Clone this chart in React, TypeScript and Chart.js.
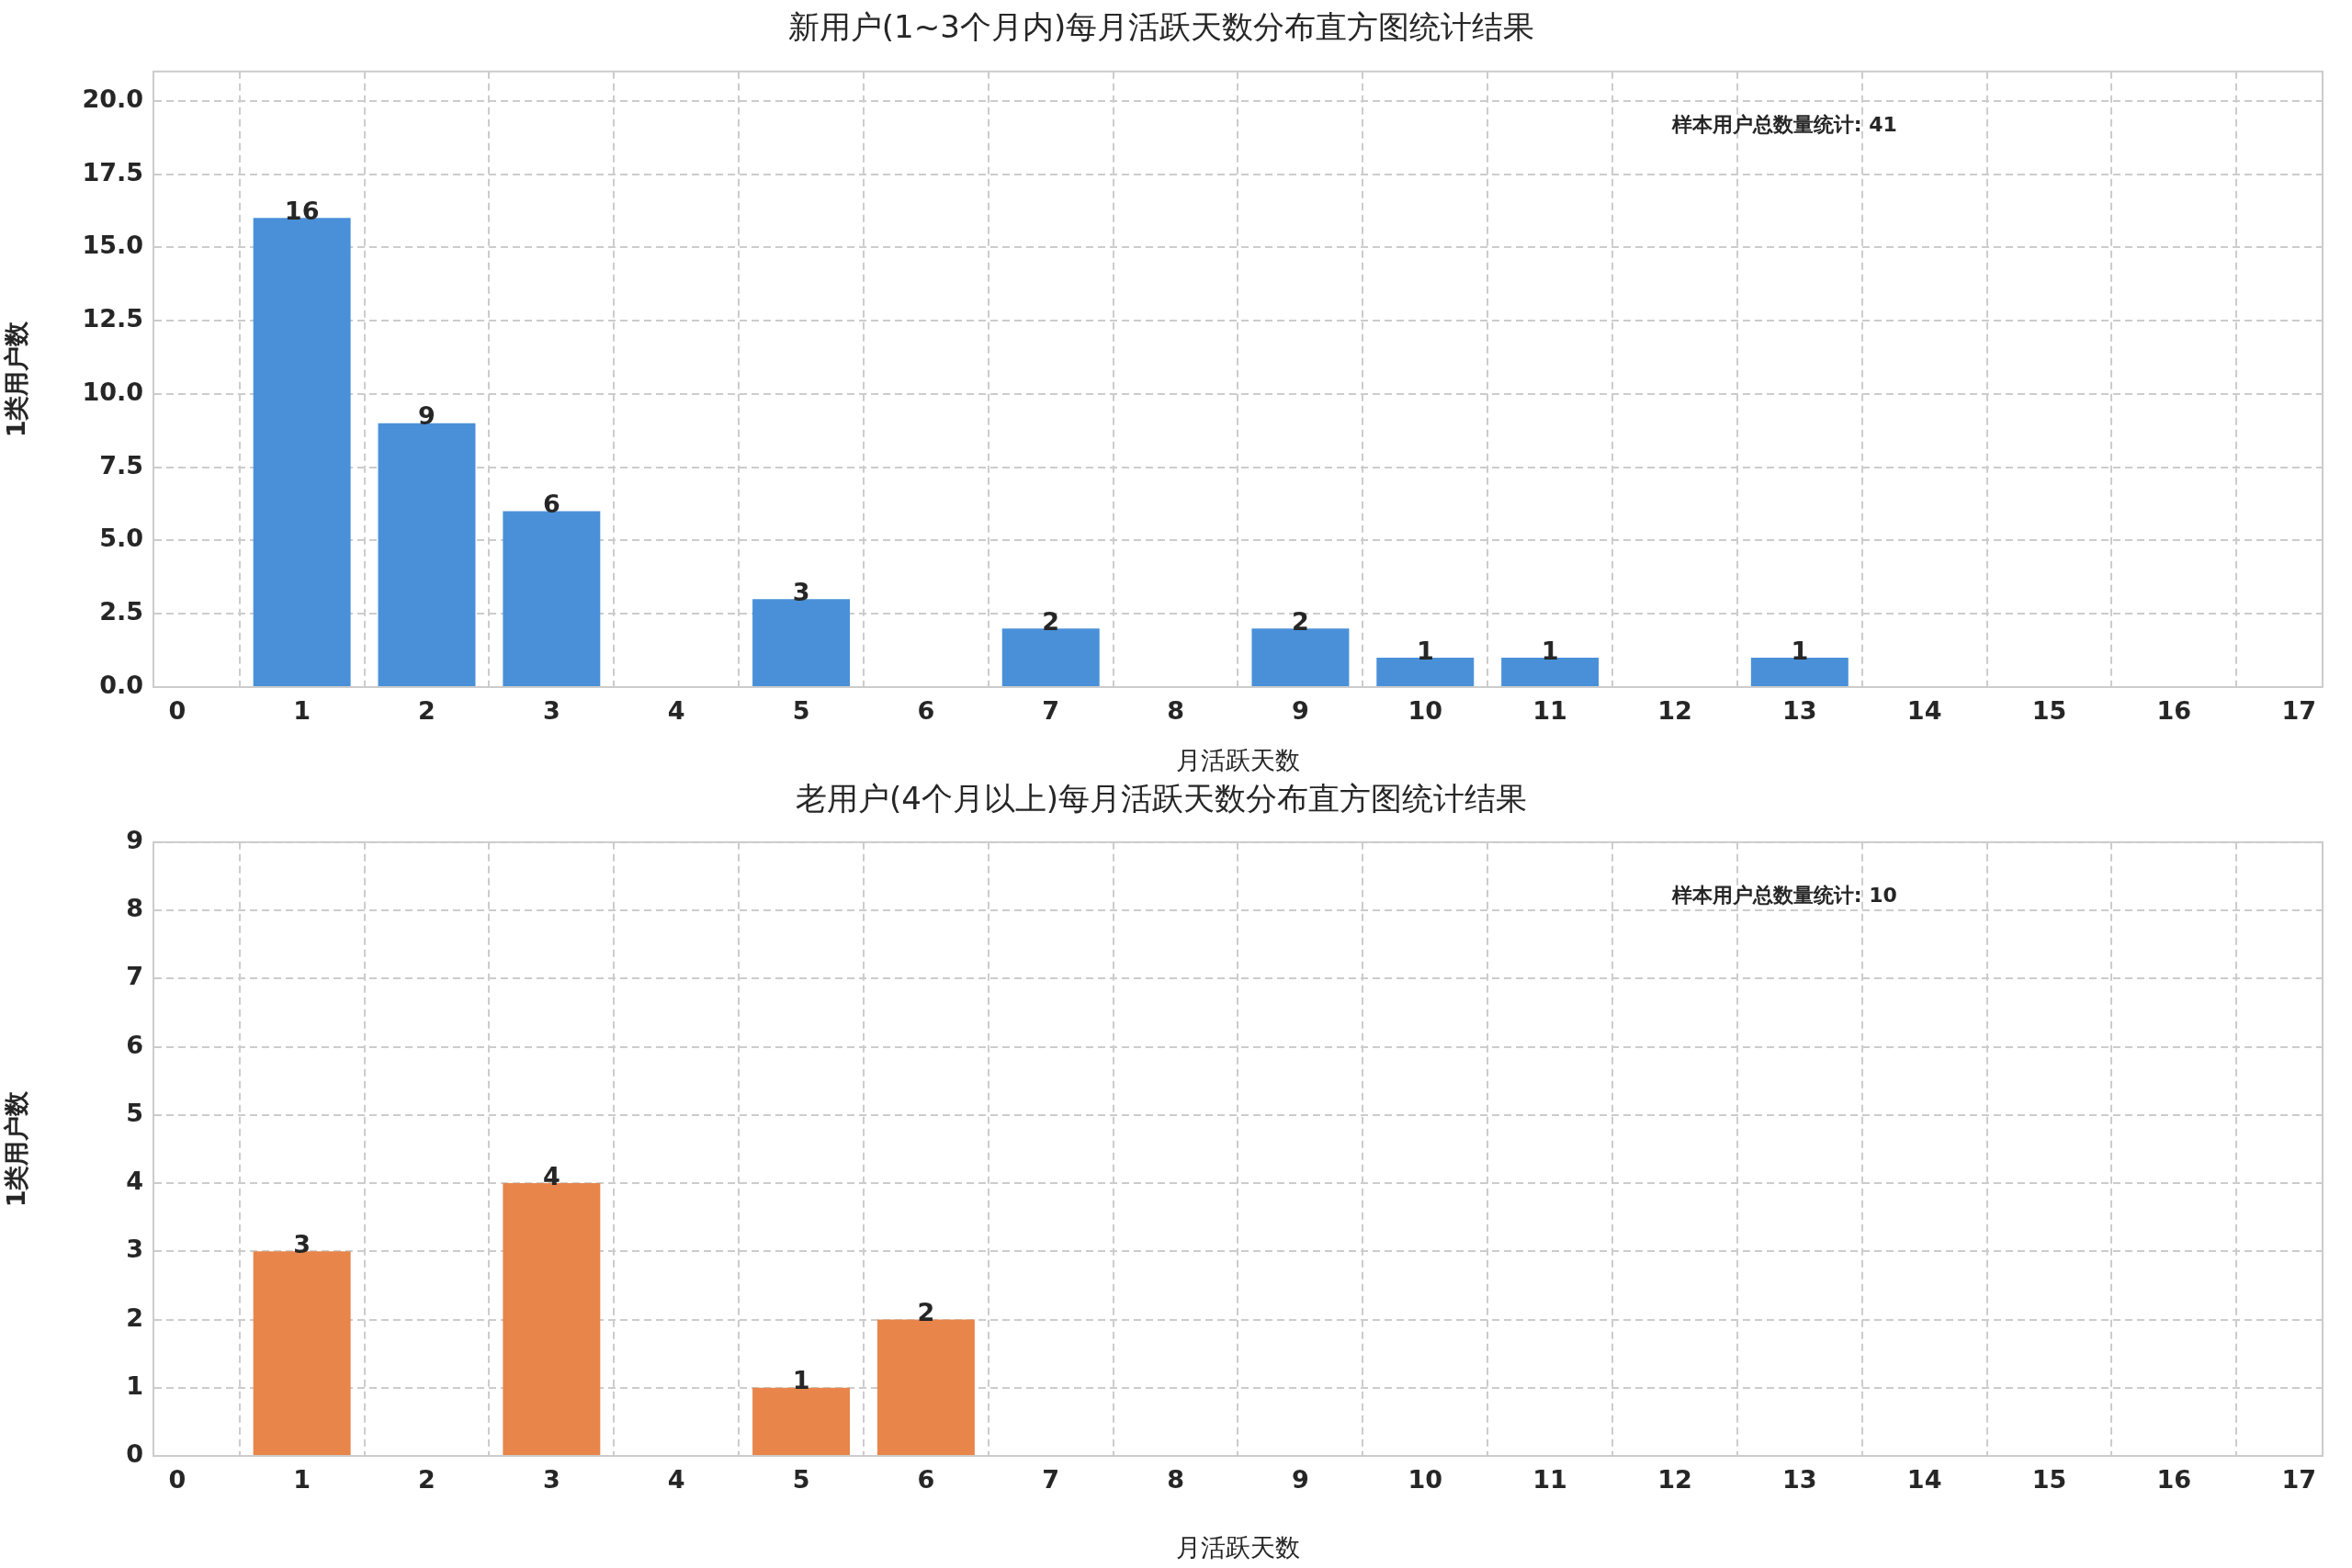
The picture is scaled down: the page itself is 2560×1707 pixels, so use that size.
import React, { useEffect, useRef } from "react";
import { Chart, registerables } from "chart.js";
Chart.register(...registerables);

const title1 = "新用户(1~3个月内)每月活跃天数分布直方图统计结果";
const title2 = "老用户(4个月以上)每月活跃天数分布直方图统计结果";
const xLabel = "月活跃天数";
const yLabel = "1类用户数";
const noteLabel = "样本用户总数量统计";
const xs1 = [1, 2, 3, 5, 7, 9, 10, 11, 13];
const ys1 = [16, 9, 6, 3, 2, 2, 1, 1, 1];
const xs2 = [1, 3, 5, 6];
const ys2 = [3, 4, 1, 2];
const total1 = 41;
const total2 = 10;

const FONT = "'DejaVu Sans', sans-serif";
const TXT = "#262626";

function makeCfg(title: string, xs: number[], ys: number[], color: string, ymax: number, step: number, dec: number, total: number, padTop: number, titleBottom: number, xH: number) {
  const labelPlugin = {
    id: "lbl",
    afterDatasetsDraw(chart: any) {
      const ctx = chart.ctx;
      const a = chart.chartArea;
      ctx.save();
      ctx.strokeStyle = "#cccccc";
      ctx.lineWidth = 2;
      ctx.strokeRect(a.left, a.top, a.right - a.left, a.bottom - a.top);
      const meta = chart.getDatasetMeta(0);
      ctx.font = `bold 27px ${FONT}`;
      ctx.fillStyle = TXT;
      ctx.textAlign = "center";
      ctx.textBaseline = "bottom";
      meta.data.forEach((b: any, i: number) => ctx.fillText(String(ys[i]), b.x, b.y + 8));
      ctx.font = `bold 22px ${FONT}`;
      ctx.textAlign = "left";
      ctx.textBaseline = "middle";
      ctx.fillText(`${noteLabel}: ${total}`, a.left + (a.right - a.left) * 0.7, a.top + (a.bottom - a.top) * 0.089);
      ctx.restore();
    },
  };
  return {
    type: "bar" as const,
    data: {
      datasets: [{ data: xs.map((x, i) => ({ x, y: ys[i] })), backgroundColor: color, barPercentage: 0.78, categoryPercentage: 1 }],
    },
    plugins: [labelPlugin],
    options: {
      animation: false as const,
      responsive: false,
      layout: { padding: { left: 0, right: 32, top: padTop, bottom: 0 } },
      plugins: {
        legend: { display: false },
        tooltip: { enabled: false },
        title: { display: true, text: title, color: TXT, font: { family: FONT, size: 34, weight: "normal" as const }, padding: { top: 0, bottom: titleBottom } },
      },
      scales: {
        x: {
          type: "linear" as const,
          offset: false,
          min: -0.19,
          max: 17.19,
          afterBuildTicks: (s: any) => { s.ticks = Array.from({ length: 18 }, (_, i) => ({ value: i })); },
          afterFit: (s: any) => { s.height = xH; },
          ticks: { color: TXT, font: { family: FONT, size: 27, weight: "bold" as const }, maxRotation: 0, autoSkip: false, padding: 4 },
          grid: { color: "#cccccc", lineWidth: 2, tickLength: 8, tickColor: "#ffffff" },
          border: { display: true, color: "#cccccc", width: 2, dash: [8, 5] },
          title: { display: true, text: xLabel, color: TXT, font: { family: FONT, size: 27 }, padding: { top: 2 } },
        },
        y: {
          min: 0,
          max: ymax,
          afterBuildTicks: (s: any) => { s.ticks = s.ticks.filter((t: any) => Math.abs(t.value / step - Math.round(t.value / step)) < 1e-6 && t.value <= (ymax === 21 ? 20 : ymax)); },
          afterFit: (s: any) => { s.width = 167; },
          ticks: { stepSize: step, color: TXT, font: { family: FONT, size: 27, weight: "bold" as const }, callback: (v: any) => Number(v).toFixed(dec) },
          grid: { color: "#cccccc", lineWidth: 2, tickLength: 8, tickColor: "#ffffff" },
          border: { display: true, color: "#cccccc", width: 2, dash: [8, 5] },
          title: { display: true, text: yLabel, color: TXT, font: { family: FONT, size: 27, weight: "bold" as const } },
        },
      },
    },
  };
}

function Panel({ cfg, top, h }: { cfg: any; top: number; h: number }) {
  const ref = useRef<HTMLCanvasElement>(null);
  useEffect(() => {
    const c = new Chart(ref.current!, cfg);
    return () => c.destroy();
  }, []);
  return <canvas ref={ref} width={2560} height={h} style={{ position: "absolute", left: 0, top, width: 2560, height: h }} />;
}

export default function App() {
  const cfg1 = makeCfg(title1, xs1, ys1, "#4a90d9", 21, 2.5, 1, total1, 12, 25, 102);
  const cfg2 = makeCfg(title2, xs2, ys2, "#e8854a", 9, 1, 0, total2, 2, 24, 122);
  return (
    <div style={{ position: "absolute", left: 0, top: 0, width: 2560, height: 1707, background: "#fff" }}>
      <Panel cfg={cfg1} top={0} h={850} />
      <Panel cfg={cfg2} top={850} h={857} />
    </div>
  );
}
